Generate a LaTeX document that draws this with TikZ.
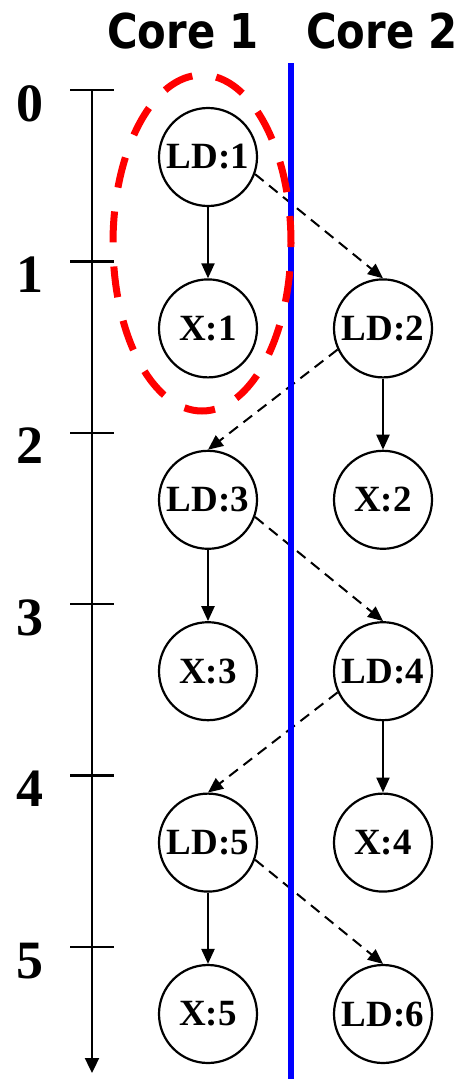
\documentclass[tikz,border=0pt]{standalone}
\usepackage{fontspec}
\setmainfont{Liberation Serif}
\newfontfamily\titlefont{DejaVu Sans}
\usetikzlibrary{arrows.meta}
\begin{document}
\begin{tikzpicture}[x=1pt,y=-1pt,
  task/.style={circle,draw,line width=2.2pt,minimum size=98pt,inner sep=0pt,
    font=\fontsize{37}{40}\selectfont\bfseries},
  dep/.style={line width=2.3pt,-{Triangle[length=15pt,width=13pt]}},
  xdep/.style={line width=2pt,dash pattern=on 11pt off 7pt,-{Triangle[length=15pt,width=13pt]}},
  tick/.style={line width=2.3pt},
  tlabel/.style={anchor=base,inner sep=0pt,font=\fontsize{54}{58}\selectfont\bfseries},
  core/.style={anchor=base,inner sep=0pt,font=\titlefont\fontsize{48}{52}\selectfont\bfseries}]
\useasboundingbox (0,0) rectangle (464,1079);
% titles
\node[core] (c1) at (183,48) {\scalebox{0.87}[1]{Core 1}};
\node[core] (c2) at (382,48) {\scalebox{0.87}[1]{Core 2}};
% timeline
\coordinate (ttop) at (92,90);
\coordinate (tbot) at (92,1073);
\draw[line width=2.3pt,-{Triangle[length=15pt,width=14pt]}] (ttop) -- (tbot);
\foreach \k in {0,...,5}{
  \coordinate (tl\k) at (70,{90+171.4*\k});
  \coordinate (tr\k) at (114,{90+171.4*\k});
  \draw[tick] (tl\k) -- (tr\k);
  \node[tlabel] (n\k) at (30,{121+171.4*\k}) {\k};
}
% tasks
\node[task] (LD1) at (208,157) {LD:1};
\node[task] (X1)  at (208,328.4) {X:1};
\node[task] (LD2) at (383,328.4) {LD:2};
\node[task] (LD3) at (208,499.8) {LD:3};
\node[task] (X2)  at (383,499.8) {X:2};
\node[task] (X3)  at (208,671.2) {X:3};
\node[task] (LD4) at (383,671.2) {LD:4};
\node[task] (LD5) at (208,842.6) {LD:5};
\node[task] (X4)  at (383,842.6) {X:4};
\node[task] (X5)  at (208,1014) {X:5};
\node[task] (LD6) at (383,1014) {LD:6};
% solid dependencies
\draw[dep] (LD1) -- (X1);
\draw[dep] (LD2) -- (X2);
\draw[dep] (LD3) -- (X3);
\draw[dep] (LD4) -- (X4);
\draw[dep] (LD5) -- (X5);
% cross-core dependencies
\draw[xdep] (LD1.-20) -- (LD2.north);
\draw[xdep] (LD2.205) -- (LD3.north);
\draw[xdep] (LD3.-20) -- (LD4.north);
\draw[xdep] (LD4.205) -- (LD5.north);
\draw[xdep] (LD5.-20) -- (LD6.north);
% separator
\coordinate (btop) at (291,63);
\coordinate (bbot) at (291,1079);
\draw[blue,line width=6pt] (btop) -- (bbot);
% highlight ellipse
\coordinate (ec) at (202,243);
\draw[red,line width=7pt,dash pattern=on 31pt off 24.1pt,dash phase=4pt]
  (ec) ellipse [x radius=89pt,y radius=168pt];
\end{tikzpicture}
\end{document}
